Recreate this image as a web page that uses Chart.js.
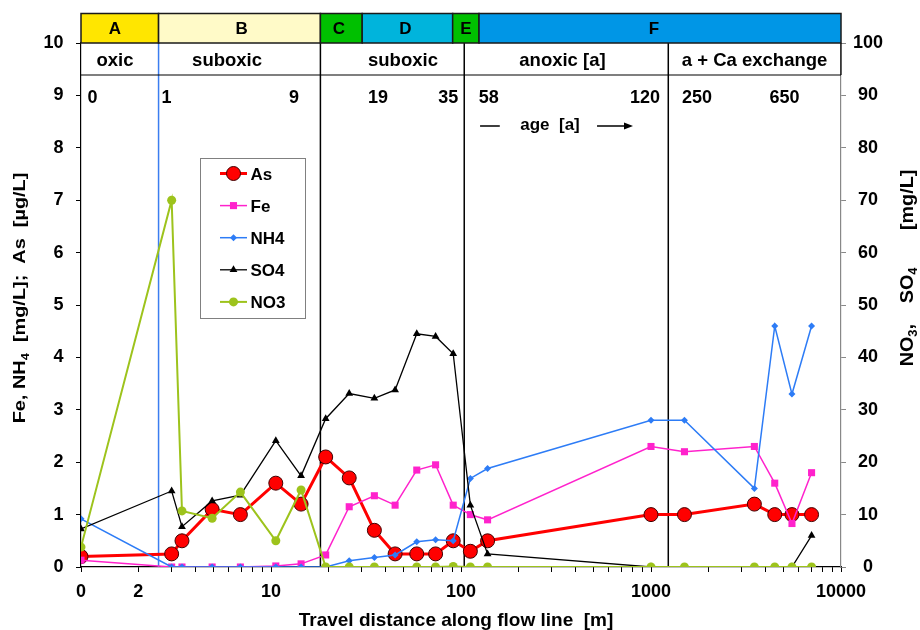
<!DOCTYPE html>
<html>
<head>
<meta charset="utf-8">
<script src="https://cdn.jsdelivr.net/npm/chart.js@4.4.1/dist/chart.umd.min.js"></script>
<style>
  html, body { margin: 0; padding: 0; background: #fff; }
  #wrap { width: 920px; height: 630px; }
</style>
</head>
<body>
<div id="wrap"><canvas id="flowChart" width="920" height="630"></canvas></div>
<script>
// travel distance along the flow line [m]; the 0 m sample sits at 1 on the log axis (labelled "0")
const distance = [1, 3.0, 3.4, 4.9, 6.9, 10.6, 14.4, 19.4, 25.8, 35, 45, 58.5, 73.5, 91, 112, 138, 1000, 1500, 3500, 4480, 5520, 7000];

// left axis: Fe, NH4 [mg/L], As [ug/L]
const asVals  = [0.2, 0.25, 0.5, 1.1, 1.0, 1.6, 1.2, 2.1, 1.7, 0.7, 0.25, 0.25, 0.25, 0.5, 0.3, 0.5, 1.0, 1.0, 1.2, 1.0, 1.0, 1.0];
const feVals  = [0.13, 0, 0, 0, 0, 0.02, 0.06, 0.23, 1.15, 1.36, 1.18, 1.85, 1.95, 1.18, 1.0, 0.9, 2.3, 2.2, 2.3, 1.6, 0.83, 1.8];
const nh4Vals = [0.92, 0, 0, 0, 0, 0, 0, 0, 0.12, 0.18, 0.23, 0.48, 0.52, 0.5, 1.69, 1.88, 2.8, 2.8, 1.5, 4.6, 3.3, 4.6];
// right axis: NO3, SO4 [mg/L]
const so4Vals = [7.25, 14.5, 7.7, 12.6, 13.7, 24.1, 17.4, 28.3, 33.1, 32.2, 33.8, 44.5, 44.0, 40.7, 11.8, 2.5, 0, null, null, null, 0, 6.0];
const no3Vals = [3.8, 70, 10.7, 9.3, 14.3, 5.0, 14.7, 0, 0, 0, null, 0, 0, 0.1, 0, 0, 0, 0, 0, 0, 0, 0];

// x tick labels (log axis)
const xTickLabels = { 1: '0', 2: '2', 10: '10', 100: '100', 1000: '1000', 10000: '10000' };

// zones A-F along the top
const zoneNames   = ['A', 'B', 'C', 'D', 'E', 'F'];
const zoneEdges   = [1, 2.56, 18.2, 30.2, 90.4, 124.4, 10000];
const zoneLabelAt = [1.51, 7.0, 22.8, 50.9, 106, 1036];
const zoneColors  = ['#FFE600', '#FFFAC8', '#00C000', '#00B4DC', '#00C000', '#0096E6'];

// redox conditions row
const redoxNames = ['oxic', 'suboxic', 'suboxic', 'anoxic [a]', 'a + Ca exchange'];
const redoxAt    = [1.51, 5.87, 49.5, 342, 3508];

// groundwater age row
const ageNames = ['0', '1', '9', '19', '35', '58', '120', '250', '650'];
const ageAt    = [1.15, 2.82, 13.2, 36.6, 85.6, 140, 930, 1744, 5037];

// vertical divider lines
const dividerAt     = [2.56, 18.2, 104, 1233];
const dividerColors = ['#3B7DF0', '#000', '#000', '#000'];

const FONT = '"Liberation Sans", Arial, sans-serif';

function xy(vals){ return distance.map((d, i) => ({ x: d, y: vals[i] })); }

function drawRich(ctx, runs, cx, y, size, stretch){
  let total = 0;
  runs.forEach(r => {
    if (r.gap) { r.w = r.gap; }
    else { ctx.font = 'bold ' + (r.sub ? size * 0.65 : size) + 'px ' + FONT; r.w = ctx.measureText(r.t).width; }
    total += r.w;
  });
  ctx.save();
  ctx.translate(cx - total * stretch / 2, y);
  ctx.scale(stretch, 1);
  ctx.textAlign = 'left';
  ctx.textBaseline = 'alphabetic';
  ctx.fillStyle = '#000';
  let x = 0;
  runs.forEach(r => {
    if (!r.gap) {
      ctx.font = 'bold ' + (r.sub ? size * 0.65 : size) + 'px ' + FONT;
      ctx.fillText(r.t, x, r.sub ? size * 0.22 : 0);
    }
    x += r.w;
  });
  ctx.restore();
}

function marker(ctx, style, x, y, r, fill, stroke, bw){
  ctx.beginPath();
  if (style === 'circle') ctx.arc(x, y, r, 0, Math.PI * 2);
  else if (style === 'rect') { const s = r * Math.SQRT1_2; ctx.rect(x - s, y - s, 2 * s, 2 * s); }
  else if (style === 'rectRot') { ctx.moveTo(x, y - r); ctx.lineTo(x + r, y); ctx.lineTo(x, y + r); ctx.lineTo(x - r, y); ctx.closePath(); }
  else if (style === 'triangle') { ctx.moveTo(x, y - r); ctx.lineTo(x + r * 0.87, y + r * 0.5); ctx.lineTo(x - r * 0.87, y + r * 0.5); ctx.closePath(); }
  ctx.fillStyle = fill; ctx.fill();
  if (bw) { ctx.lineWidth = bw; ctx.strokeStyle = stroke; ctx.stroke(); }
}

const overlay = {
  id: 'overlay',
  beforeDatasetsDraw(chart){
    const { ctx, chartArea: a, scales: { x } } = chart;
    ctx.save();
    // dividers
    dividerAt.forEach((d, i) => {
      const X = x.getPixelForValue(d);
      ctx.strokeStyle = dividerColors[i];
      ctx.lineWidth = 1.5;
      ctx.beginPath(); ctx.moveTo(X, a.top); ctx.lineTo(X, a.bottom); ctx.stroke();
    });
    // redox row frame
    ctx.strokeStyle = '#000'; ctx.lineWidth = 1.2;
    ctx.beginPath();
    ctx.moveTo(a.left, a.top + 32); ctx.lineTo(a.right, a.top + 32);
    ctx.moveTo(a.right, a.top); ctx.lineTo(a.right, a.top + 32);
    ctx.stroke();
    // texts
    ctx.fillStyle = '#000';
    ctx.textAlign = 'center'; ctx.textBaseline = 'alphabetic';
    ctx.font = 'bold 18.5px ' + FONT;
    redoxNames.forEach((t, i) => ctx.fillText(t, x.getPixelForValue(redoxAt[i]), a.top + 22.5));
    ctx.font = 'bold 18px ' + FONT;
    ageNames.forEach((t, i) => ctx.fillText(t, x.getPixelForValue(ageAt[i]), a.top + 60.3));
    // age arrow
    ctx.font = 'bold 17px ' + FONT;
    ctx.fillText('age  [a]', x.getPixelForValue(294), a.top + 87);
    const yA = a.top + 83;
    ctx.lineWidth = 1.5; ctx.strokeStyle = '#000';
    ctx.beginPath();
    ctx.moveTo(x.getPixelForValue(126), yA); ctx.lineTo(x.getPixelForValue(160), yA);
    const ax1 = x.getPixelForValue(804);
    ctx.moveTo(x.getPixelForValue(520), yA); ctx.lineTo(ax1 - 4, yA);
    ctx.stroke();
    ctx.beginPath(); ctx.moveTo(ax1, yA); ctx.lineTo(ax1 - 9, yA - 3.5); ctx.lineTo(ax1 - 9, yA + 3.5); ctx.closePath(); ctx.fill();
    ctx.restore();
  },
  afterDatasetsDraw(chart){
    const ctx = chart.ctx;
    ctx.save();
    // legend box
    ctx.fillStyle = '#fff';
    ctx.fillRect(200.5, 158.5, 105, 160);
    ctx.strokeStyle = '#808080'; ctx.lineWidth = 1;
    ctx.strokeRect(200.5, 158.5, 105, 160);
    chart.data.datasets.forEach((ds, i) => {
      const base = 180 + i * 32.1;
      const my = base - 6.5;
      ctx.strokeStyle = ds.borderColor; ctx.lineWidth = ds.borderWidth;
      ctx.beginPath(); ctx.moveTo(220, my); ctx.lineTo(247, my); ctx.stroke();
      marker(ctx, ds.pointStyle, 233.5, my, ds.pointRadius, ds.pointBackgroundColor, ds.pointBorderColor, ds.pointBorderWidth);
      ctx.fillStyle = '#000';
      ctx.font = 'bold 17px ' + FONT;
      ctx.textAlign = 'left'; ctx.textBaseline = 'alphabetic';
      ctx.fillText(ds.label, 250.5, base);
    });
    ctx.restore();
  },
  afterDraw(chart){
    const { ctx, chartArea: a, scales: { x } } = chart;
    ctx.save();
    // zone bands
    const top = a.top - 29.5;
    zoneNames.forEach((n, i) => {
      const x0 = x.getPixelForValue(zoneEdges[i]);
      const x1 = x.getPixelForValue(zoneEdges[i + 1]);
      ctx.fillStyle = zoneColors[i];
      ctx.fillRect(x0, top, x1 - x0, a.top - top);
      ctx.strokeStyle = '#1a1a1a'; ctx.lineWidth = 1.5;
      ctx.strokeRect(x0, top, x1 - x0, a.top - top);
      ctx.fillStyle = '#000';
      ctx.font = 'bold 17px ' + FONT;
      ctx.textAlign = 'center'; ctx.textBaseline = 'alphabetic';
      ctx.fillText(n, x.getPixelForValue(zoneLabelAt[i]), a.top - 9);
    });
    // axis titles
    drawRich(ctx, [{ t: 'Travel distance along flow line  [m]' }], 456, 626, 19, 1);
    ctx.save();
    ctx.translate(25, 298); ctx.rotate(-Math.PI / 2);
    drawRich(ctx, [{ t: 'Fe, NH' }, { t: '4', sub: true }, { t: '  [mg/L];  As  [\u00B5g/L]' }], 0, 0, 17, 1.17);
    ctx.restore();
    ctx.save();
    ctx.translate(913, 268); ctx.rotate(-Math.PI / 2);
    drawRich(ctx, [{ t: 'NO' }, { t: '3', sub: true }, { t: ',' }, { gap: 20 }, { t: 'SO' }, { t: '4', sub: true }, { gap: 36 }, { t: '[mg/L]' }], 0, 0, 19, 1.04);
    ctx.restore();
    ctx.restore();
  }
};

const tickFont = { family: FONT, size: 18, weight: 'bold' };
const xTickValues = [];
[1, 10, 100, 1000].forEach(p => { for (let k = 1; k <= 9; k++) xTickValues.push(k * p); });
xTickValues.push(10000);

new Chart(document.getElementById('flowChart'), {
  type: 'line',
  data: {
    datasets: [
      { label: 'As', data: xy(asVals), yAxisID: 'y', order: 5,
        borderColor: '#FF0000', borderWidth: 3, pointStyle: 'circle', pointRadius: 7,
        pointBackgroundColor: '#FF0000', pointBorderColor: '#400000', pointBorderWidth: 1 },
      { label: 'Fe', data: xy(feVals), yAxisID: 'y', order: 4,
        borderColor: '#FF22CC', borderWidth: 1.5, pointStyle: 'rect', pointRadius: 5,
        pointBackgroundColor: '#FF22CC', pointBorderColor: '#FF22CC', pointBorderWidth: 0 },
      { label: 'NH4', data: xy(nh4Vals), yAxisID: 'y', order: 3,
        borderColor: '#2D7CF6', borderWidth: 1.5, pointStyle: 'rectRot', pointRadius: 3.5,
        pointBackgroundColor: '#2D7CF6', pointBorderColor: '#2D7CF6', pointBorderWidth: 0 },
      { label: 'SO4', data: xy(so4Vals), yAxisID: 'y1', order: 2, spanGaps: false,
        borderColor: '#000000', borderWidth: 1.3, pointStyle: 'triangle', pointRadius: 4.5,
        pointBackgroundColor: '#000000', pointBorderColor: '#000000', pointBorderWidth: 0 },
      { label: 'NO3', data: xy(no3Vals), yAxisID: 'y1', order: 1, spanGaps: true,
        borderColor: '#9DC31C', borderWidth: 2, pointStyle: 'circle', pointRadius: 4.5,
        pointBackgroundColor: '#9DC31C', pointBorderColor: '#9DC31C', pointBorderWidth: 0 }
    ]
  },
  options: {
    responsive: false,
    animation: false,
    devicePixelRatio: 1,
    layout: { padding: { top: 43, left: 0, right: 0, bottom: 0 } },
    elements: { line: { tension: 0 } },
    plugins: { legend: { display: false }, tooltip: { enabled: false } },
    scales: {
      x: {
        type: 'logarithmic', position: 'bottom', min: 1, max: 10000,
        afterBuildTicks: s => { s.ticks = xTickValues.map(v => ({ value: v })); },
        ticks: { autoSkip: false, maxRotation: 0, minRotation: 0, padding: 9, color: '#000', font: tickFont,
                 callback: v => xTickLabels[v] ?? '' },
        grid: { drawOnChartArea: false, drawTicks: true, tickLength: 5, color: '#000' },
        border: { color: '#000', width: 1.2 },
        afterFit: s => { s.height = 63; }
      },
      y: {
        type: 'linear', position: 'left', min: 0, max: 10,
        ticks: { stepSize: 1, padding: 12.5, color: '#000', font: tickFont },
        grid: { drawOnChartArea: false, drawTicks: true, tickLength: 5, color: '#000' },
        border: { color: '#000', width: 1.2 },
        afterFit: s => { s.width = 81; }
      },
      y1: {
        type: 'linear', position: 'right', min: 0, max: 100,
        ticks: { stepSize: 10, padding: 7, crossAlign: 'center', color: '#000', font: tickFont },
        grid: { drawOnChartArea: false, drawTicks: true, tickLength: 5, color: '#888' },
        border: { color: '#888', width: 1.2 },
        afterFit: s => { s.width = 79; }
      }
    }
  },
  plugins: [overlay]
});
</script>
</body>
</html>
